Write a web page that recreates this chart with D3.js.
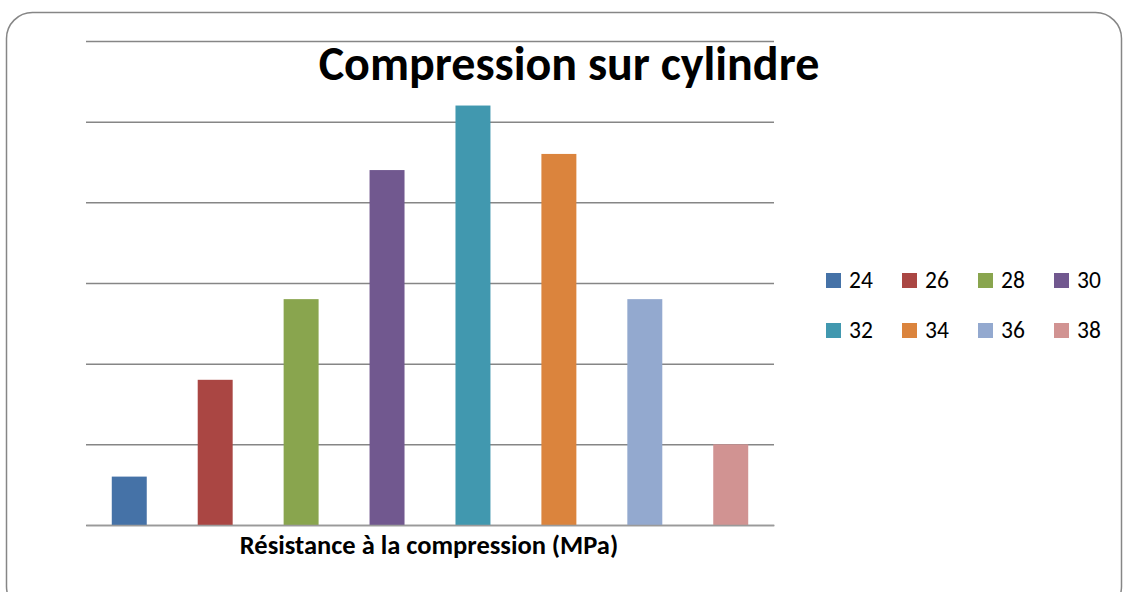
<!DOCTYPE html>
<html>
<head>
<meta charset="utf-8">
<script src="https://cdn.jsdelivr.net/npm/d3@7"></script>
<style>
  html, body { margin: 0; padding: 0; background: #fff; }
  svg { display: block; font-family: Calibri, Carlito, "Open Sans", sans-serif; }
</style>
</head>
<body>
<svg id="chart" width="1125" height="592"></svg>
<script>
// categories (strength classes, MPa) and counts
const categories = ['24', '26', '28', '30', '32', '34', '36', '38'];
const counts = [3, 9, 14, 22, 26, 23, 14, 5];
const colors = ['#4572a7', '#aa4643', '#89a54e', '#71588f', '#4198af', '#db843d', '#93a9cf', '#d19392'];
const yTicks = [0, 5, 10, 15, 20, 25, 30];

const width = 1125, height = 592;
const margin = { top: 41, right: 351, bottom: 67, left: 86 };
const innerW = width - margin.left - margin.right;
const innerH = height - margin.top - margin.bottom;

const svg = d3.select('#chart');

// outer frame
svg.append('rect')
  .attr('x', 6.5).attr('y', 12.5)
  .attr('width', 1115).attr('height', 600)
  .attr('rx', 26).attr('ry', 26)
  .attr('fill', '#fff')
  .attr('stroke', '#868686')
  .attr('stroke-width', 1.5);

const g = svg.append('g').attr('transform', `translate(${margin.left},${margin.top})`);

const x = d3.scaleBand().domain(categories).range([0, innerW]).paddingInner(0.593).paddingOuter(0.3);
const y = d3.scaleLinear().domain([0, 30]).range([innerH, 0]);

// gridlines
g.append('g')
  .call(d3.axisLeft(y).tickValues(yTicks).tickSize(-innerW).tickFormat(''))
  .call(s => s.select('.domain').remove())
  .call(s => s.selectAll('line').attr('stroke', '#868686').attr('stroke-width', 1.5));

// bars
g.selectAll('rect.bar')
  .data(categories)
  .join('rect')
  .attr('class', 'bar')
  .attr('x', d => x(d))
  .attr('width', x.bandwidth())
  .attr('y', (d, i) => y(counts[i]))
  .attr('height', (d, i) => innerH - y(counts[i]))
  .attr('fill', (d, i) => colors[i]);

// baseline
g.append('g')
  .attr('transform', `translate(0,${innerH})`)
  .call(d3.axisBottom(x).tickSize(0).tickFormat(''))
  .call(s => s.select('.domain').attr('stroke', '#9a9a9a').attr('stroke-width', 1.5));

// title
svg.append('text')
  .attr('x', 569).attr('y', 80)
  .attr('text-anchor', 'middle')
  .attr('font-size', 48).attr('font-weight', 'bold')
  .attr('fill', '#000')
  .text('Compression sur cylindre');

// x axis title
svg.append('text')
  .attr('x', margin.left + innerW / 2 - 1).attr('y', 554)
  .attr('text-anchor', 'middle')
  .attr('font-size', 26.5).attr('font-weight', 'bold')
  .attr('fill', '#000')
  .text('Résistance à la compression (MPa)');

// legend
const legend = svg.append('g').attr('transform', 'translate(826,273)');
const item = legend.selectAll('g')
  .data(categories)
  .join('g')
  .attr('transform', (d, i) => `translate(${(i % 4) * 76},${Math.floor(i / 4) * 50})`);
item.append('rect')
  .attr('width', 15).attr('height', 15)
  .attr('fill', (d, i) => colors[i]);
item.append('text')
  .attr('x', 23).attr('y', 15)
  .attr('font-size', 23.5)
  .attr('fill', '#000')
  .text(d => d);
</script>
</body>
</html>
